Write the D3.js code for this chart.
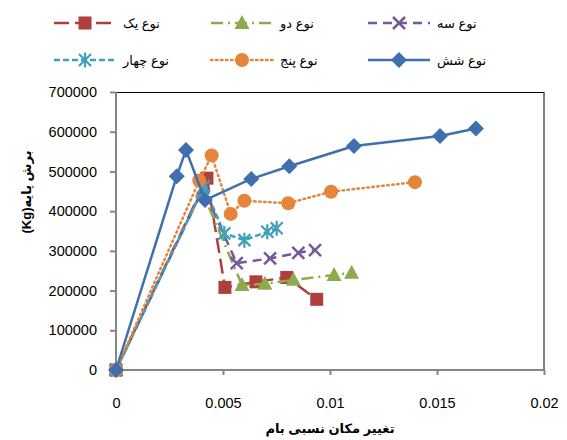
<!DOCTYPE html>
<html><head><meta charset="utf-8">
<script src="https://cdn.jsdelivr.net/npm/d3@7"></script>
<style>body{margin:0;background:#fff}svg{display:block}text{font-family:"Liberation Sans","DejaVu Sans",Arial,sans-serif}</style>
</head><body>
<script>
const seriesNames = ["نوع یک","نوع دو","نوع سه","نوع چهار","نوع پنج","نوع شش"];
const s1x = [0,0.00425,0.00509,0.00654,0.00798,0.00938];
const s1y = [0,483000,208000,222000,233000,178000];
const s2x = [0,0.00402,0.00589,0.00696,0.00829,0.01019,0.01101];
const s2y = [0,450000,214000,217000,227000,239000,245000];
const s3x = [0,0.00407,0.00564,0.0072,0.00852,0.0093];
const s3y = [0,458000,269000,281000,295000,302000];
const s4x = [0,0.00411,0.00506,0.006,0.00707,0.00751];
const s4y = [0,463000,344000,327000,348000,357000];
const s5x = [0,0.00389,0.00447,0.00536,0.006,0.00805,0.01005,0.01397];
const s5y = [0,477000,540000,393000,426000,420000,449000,473000];
const s6x = [0,0.00284,0.00327,0.00416,0.00632,0.0081,0.01112,0.01514,0.01682];
const s6y = [0,488000,554000,428000,481000,513000,564000,589000,608000];
const xTicks = [0,0.005,0.01,0.015,0.02];
const xTickLabels = ["0","0.005","0.01","0.015","0.02"];
const yTicks = [0,100000,200000,300000,400000,500000,600000,700000];
const xTitle = "تغییر مکان نسبی بام";
const yTitle = "(Kg)برش پایه";

const W=567,H=440;
const svg=d3.select("body").append("svg").attr("width",W).attr("height",H);
const x=d3.scaleLinear().domain([0,0.02]).range([116,544]);
const y=d3.scaleLinear().domain([0,700000]).range([370,92]);

const styles=[
 {c:"#AE3F3D",dash:"15,6",m:"square"},
 {c:"#8DAB4D",dash:"12,5,2,5",m:"triangle"},
 {c:"#76599C",dash:"9,6",m:"x"},
 {c:"#3EA0BA",dash:"6,3",m:"star"},
 {c:"#E5843B",dash:"1.5,3.5",m:"circle",cap:"round"},
 {c:"#3F70AD",dash:null,m:"diamond"}
];
const data=[[s1x,s1y],[s2x,s2y],[s3x,s3y],[s4x,s4y],[s5x,s5y],[s6x,s6y]].map(([a,b])=>a.map((v,i)=>[v,b[i]]));

// border top/right
svg.append("line").attr("x1",116).attr("x2",544).attr("y1",92.5).attr("y2",92.5).attr("stroke","#000").attr("stroke-width",1);
svg.append("line").attr("x1",544).attr("x2",544).attr("y1",92).attr("y2",370).attr("stroke","#000").attr("stroke-width",1);

const gx=svg.append("g").attr("transform","translate(0,370)")
 .call(d3.axisBottom(x).tickValues(xTicks).tickFormat((d,i)=>xTickLabels[i]).tickSize(5).tickPadding(23));
const gy=svg.append("g").attr("transform","translate(116,0)")
 .call(d3.axisLeft(y).tickValues(yTicks).tickFormat(d3.format("d")).tickSize(6).tickPadding(13));
[gx,gy].forEach(g=>{
 g.select(".domain").attr("stroke","#868686").attr("stroke-width",2);
 g.selectAll(".tick line").attr("stroke","#868686").attr("stroke-width",2);
 g.selectAll(".tick text").attr("fill","#000").style("font-size","14.5px").style("font-family","'Liberation Sans',Arial,sans-serif");
});
gy.select(".domain").attr("d","M0,92V370");
gx.select(".domain").attr("d","M116,0H544");

function marker(g,type,cx,cy,col){
 if(type==="square") g.append("rect").attr("x",cx-6.5).attr("y",cy-6.5).attr("width",13).attr("height",13).attr("fill",col);
 else if(type==="circle") g.append("circle").attr("cx",cx).attr("cy",cy).attr("r",7).attr("fill",col);
 else if(type==="diamond") g.append("path").attr("d",`M${cx},${cy-8}L${cx+8},${cy}L${cx},${cy+8}L${cx-8},${cy}Z`).attr("fill",col);
 else if(type==="triangle") g.append("path").attr("d",`M${cx},${cy-8}L${cx+7.5},${cy+6}L${cx-7.5},${cy+6}Z`).attr("fill",col);
 else if(type==="x") g.append("path").attr("d",`M${cx-6},${cy-6}L${cx+6},${cy+6}M${cx+6},${cy-6}L${cx-6},${cy+6}`).attr("stroke",col).attr("stroke-width",2.5);
 else if(type==="star") g.append("path").attr("d",`M${cx-6},${cy-6}L${cx+6},${cy+6}M${cx+6},${cy-6}L${cx-6},${cy+6}M${cx},${cy-7.5}L${cx},${cy+7.5}`).attr("stroke",col).attr("stroke-width",2.2);
}

const line=d3.line().x(d=>x(d[0])).y(d=>y(d[1]));
data.forEach((pts,i)=>{
 const st=styles[i];
 const g=svg.append("g");
 g.append("path").attr("d",line(pts)).attr("fill","none").attr("stroke",st.c).attr("stroke-width",2.5)
  .attr("stroke-dasharray",st.dash).attr("stroke-linecap",st.cap||"butt").attr("stroke-linejoin","round");
 pts.forEach(p=>marker(g,st.m,x(p[0]),y(p[1]),st.c));
});

// legend
const legPos=[[54,23],[211,23],[368,23],[54,60],[211,60],[368,60]];
seriesNames.forEach((n,i)=>{
 const st=styles[i];const [lx,ly]=legPos[i];
 const g=svg.append("g");
 g.append("line").attr("x1",lx).attr("x2",lx+62).attr("y1",ly).attr("y2",ly).attr("stroke",st.c).attr("stroke-width",2.5)
  .attr("stroke-dasharray",st.dash).attr("stroke-linecap",st.cap||"butt");
 marker(g,st.m,lx+31,ly,st.c);
 g.append("text").attr("x",lx+69).attr("y",ly).attr("dy","0.35em").style("font-size","13px").text(n);
});

svg.append("text").attr("x",330).attr("y",428).attr("text-anchor","middle").attr("dy","0.35em")
 .style("font-size","13px").style("font-weight","bold").text(xTitle);
svg.append("text").attr("transform","translate(26,192) rotate(-90)").attr("text-anchor","middle").attr("dy","0.35em")
 .style("font-size","13px").style("font-weight","bold").text(yTitle);
</script>
</body></html>
